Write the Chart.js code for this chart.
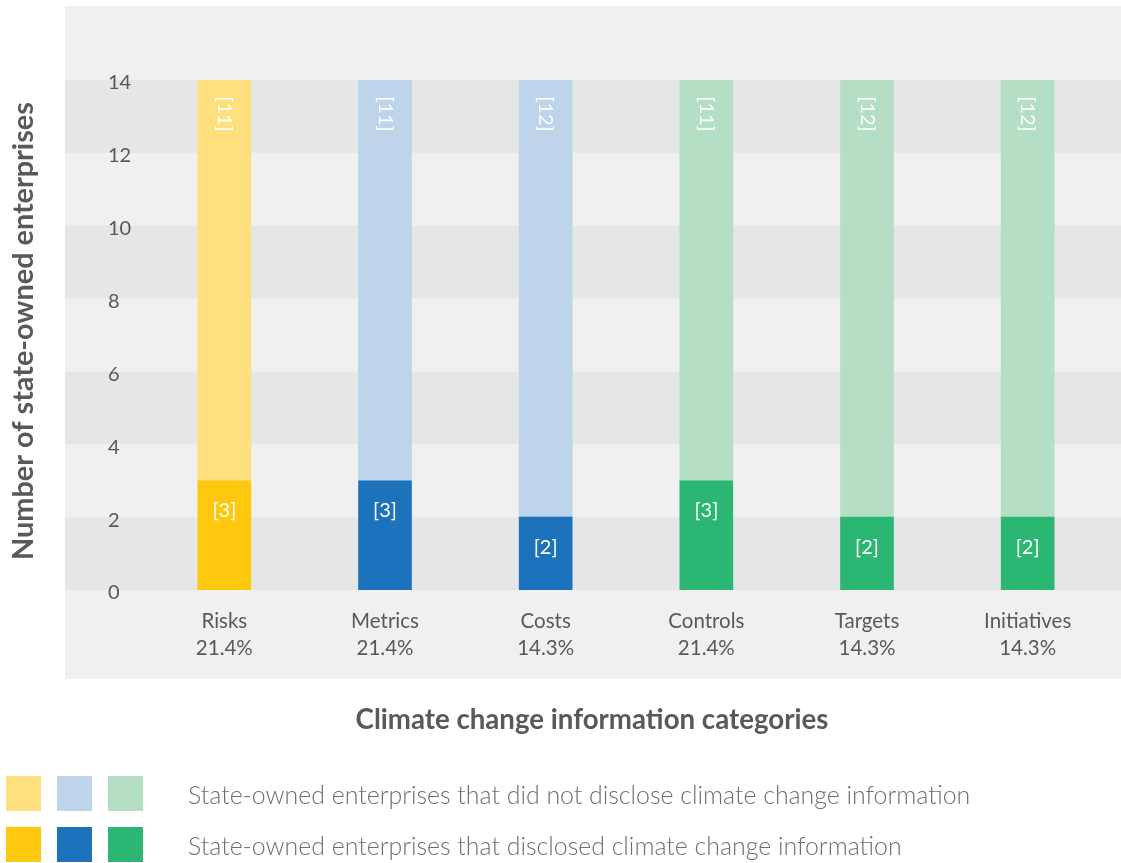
<!DOCTYPE html>
<html>
<head>
<meta charset="utf-8">
<script src="https://cdn.jsdelivr.net/npm/chart.js@4"></script>
<style>
  html, body { margin: 0; padding: 0; background: #ffffff; }
  canvas { display: block; }
</style>
</head>
<body>
<canvas id="c" width="1121" height="863"></canvas>
<script>
// ---- data ----
const categories = ['Risks', 'Metrics', 'Costs', 'Controls', 'Targets', 'Initiatives'];
const shares = ['21.4%', '21.4%', '14.3%', '21.4%', '14.3%', '14.3%'];
const disclosed = [3, 3, 2, 3, 2, 2];
const notDisclosed = [11, 11, 12, 11, 12, 12];
const yTicks = [0, 2, 4, 6, 8, 10, 12, 14];
const legendLabels = [
  'State-owned enterprises that did not disclose climate change information',
  'State-owned enterprises that disclosed climate change information'
];
const xTitle = 'Climate change information categories';
const yTitle = 'Number of state-owned enterprises';

// ---- styles ----
const darkColors = ['#FEC80F', '#1D72BC', '#1D72BC', '#2BB673', '#2BB673', '#2BB673'];
const lightColors = ['#FDE07D', '#BDD4EA', '#BDD4EA', '#B4DFC4', '#B4DFC4', '#B4DFC4'];
const legendLight = ['#FDE07D', '#BDD4EA', '#B4DFC4'];
const legendDark = ['#FEC80F', '#1D72BC', '#2BB673'];
const textColor = '#58595B';
const panelColor = '#F0F0F0';
const bandColor = '#E5E6E8';

function fitFont(ctx, text, weight, family, width) {
  ctx.font = weight + ' 20px ' + family;
  const w = ctx.measureText(text).width;
  return 20 * width / w;
}

const decor = {
  id: 'decor',
  beforeDraw(chart) {
    const ctx = chart.ctx;
    const y = chart.scales.y;
    ctx.save();
    ctx.fillStyle = panelColor;
    ctx.fillRect(65, 6, 1121 - 65, 679 - 6);
    ctx.fillStyle = bandColor;
    for (let v = 0; v < 14; v += 4) {
      const top = y.getPixelForValue(v + 2);
      const bot = y.getPixelForValue(v);
      ctx.fillRect(65, top, 1121 - 65, bot - top);
    }
    ctx.restore();
  },
  afterDatasetsDraw(chart) {
    const ctx = chart.ctx;
    ctx.save();
    ctx.fillStyle = '#FFFFFF';
    ctx.font = '400 20px Lato';
    ctx.textAlign = 'center';
    ctx.textBaseline = 'middle';
    const m0 = chart.getDatasetMeta(0);
    m0.data.forEach((bar, i) => {
      ctx.fillText('[' + disclosed[i] + ']', bar.x, bar.y + 30);
    });
    const m1 = chart.getDatasetMeta(1);
    m1.data.forEach((bar, i) => {
      ctx.save();
      ctx.translate(bar.x, bar.y + 34);
      ctx.rotate(Math.PI / 2);
      ctx.fillText('[' + notDisclosed[i] + ']', 0, 0);
      ctx.restore();
    });
    ctx.restore();
  },
  afterDraw(chart) {
    const ctx = chart.ctx;
    ctx.save();
    ctx.fillStyle = textColor;
    ctx.textAlign = 'center';
    ctx.textBaseline = 'middle';
    // x title
    let fs = fitFont(ctx, xTitle, '700', 'Lato', 473);
    ctx.font = '700 ' + fs + 'px Lato';
    ctx.fillText(xTitle, 592, 720);
    // y title
    fs = fitFont(ctx, yTitle, '700', 'Lato', 458);
    ctx.font = '700 ' + fs + 'px Lato';
    ctx.save();
    ctx.translate(24, 331);
    ctx.rotate(-Math.PI / 2);
    ctx.fillText(yTitle, 0, 0);
    ctx.restore();
    // legend
    const xs = [6, 57, 108];
    xs.forEach((x, i) => {
      ctx.fillStyle = legendLight[i];
      ctx.fillRect(x, 776, 35, 35);
      ctx.fillStyle = legendDark[i];
      ctx.fillRect(x, 827, 35, 35);
    });
    ctx.fillStyle = '#6D6E71';
    ctx.textAlign = 'left';
    fs = fitFont(ctx, legendLabels[0], '300', 'Lato', 783);
    ctx.font = '300 ' + fs + 'px Lato';
    ctx.fillText(legendLabels[0], 188, 796);
    ctx.fillText(legendLabels[1], 188, 847);
    ctx.restore();
  }
};

new Chart(document.getElementById('c'), {
  type: 'bar',
  data: {
    labels: categories.map((c, i) => [c, shares[i]]),
    datasets: [
      { label: 'Disclosed', data: disclosed, backgroundColor: darkColors, borderWidth: 0 },
      { label: 'Not disclosed', data: notDisclosed, backgroundColor: lightColors, borderWidth: 0 }
    ]
  },
  options: {
    responsive: false,
    animation: false,
    devicePixelRatio: 1,
    layout: { padding: { left: 108, right: 13, top: 80, bottom: 183 } },
    plugins: { legend: { display: false }, tooltip: { enabled: false } },
    datasets: { bar: { barThickness: 53 } },
    scales: {
      x: {
        stacked: true,
        grid: { display: false, drawTicks: false },
        border: { display: false },
        afterFit(s) { s.height = 90; },
        ticks: {
          color: textColor,
          font: { family: 'Lato', size: 20.5, lineHeight: 1.3 },
          padding: 18,
          maxRotation: 0,
          autoSkip: false
        }
      },
      y: {
        stacked: true,
        min: 0,
        max: 14,
        afterFit(s) { s.width = 36; },
        afterBuildTicks(s) { s.ticks = yTicks.map(v => ({ value: v })); },
        grid: { display: false, drawTicks: false },
        border: { display: false },
        ticks: {
          color: textColor,
          font: { family: 'Lato', size: 20 },
          crossAlign: 'far',
          labelOffset: 3,
          padding: 0
        }
      }
    }
  },
  plugins: [decor]
});
</script>
</body>
</html>
